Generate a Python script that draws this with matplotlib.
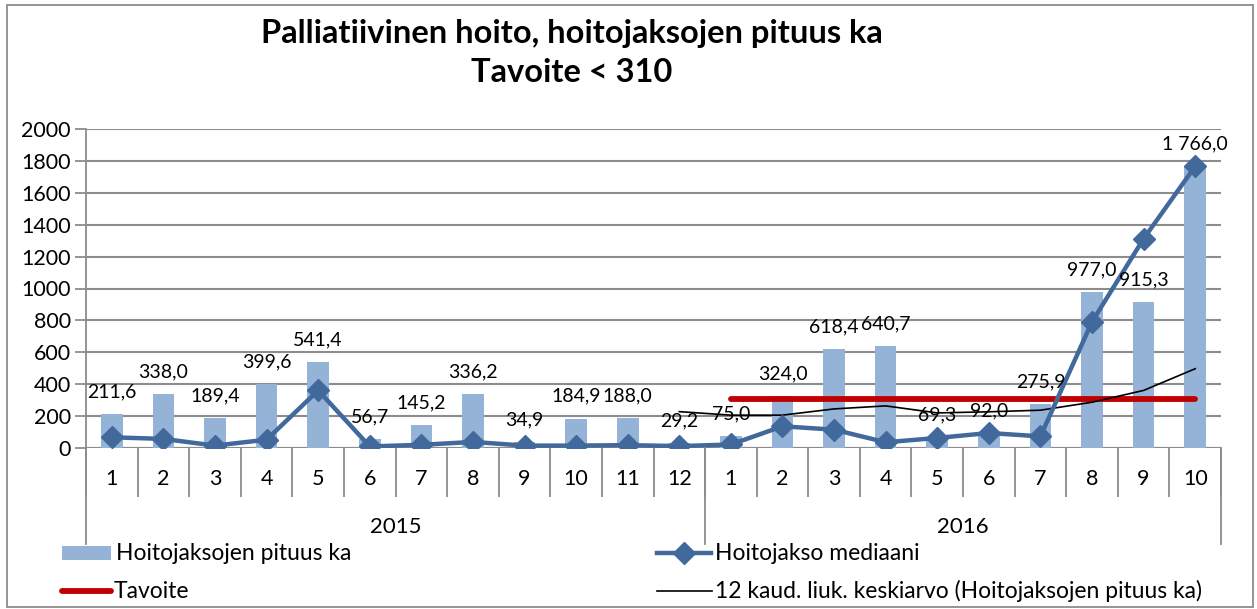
import matplotlib
matplotlib.use("Agg")
import matplotlib.pyplot as plt
from matplotlib.lines import Line2D
from matplotlib.patches import Rectangle
import matplotlib.transforms as mtransforms

# --- data -------------------------------------------------------------
years = ["2015", "2016"]
months_2015 = ["1", "2", "3", "4", "5", "6", "7", "8", "9", "10", "11", "12"]
months_2016 = ["1", "2", "3", "4", "5", "6", "7", "8", "9", "10"]
month_labels = months_2015 + months_2016

pituus_ka = [211.6, 338.0, 189.4, 399.6, 541.4, 56.7, 145.2, 336.2, 34.9, 184.9, 188.0, 29.2,
             75.0, 324.0, 618.4, 640.7, 69.3, 92.0, 275.9, 977.0, 915.3, 1766.0]
mediaani = [67, 57, 15, 52, 361, 10, 20, 38, 15, 15, 18, 12,
            22, 136, 115, 36, 63, 94, 73, 791, 1312, 1766]
liuk_keskiarvo = [None] * 11 + [228, 206, 206, 245, 264, 220, 227, 237, 287, 361, 497]
tavoite = [None] * 12 + [310] * 10

title_lines = ["Palliatiivinen hoito, hoitojaksojen pituus ka", "Tavoite < 310"]
legend_labels = ["Hoitojaksojen pituus ka", "Hoitojakso mediaani", "Tavoite",
                 "12 kaud. liuk. keskiarvo (Hoitojaksojen pituus ka)"]

# --- styling ----------------------------------------------------------
W, H = 1257, 609
DPI = 100
FONT = "Lato"
BAR_C = "#95B3D7"
MED_C = "#41699C"
RED_C = "#C00000"
GRID_C = "#8C8C8C"

plt.rcParams["font.family"] = [FONT, "DejaVu Sans"]

fig = plt.figure(figsize=(W / DPI, H / DPI), dpi=DPI)


def fx(px):
    return px / W


def fy(py):
    return 1 - py / H


# outer chart border
fig.add_artist(Rectangle((fx(7), fy(607)), fx(1253) - fx(7), fy(5) - fy(607),
                         transform=fig.transFigure, fill=False, ec="#8C8C8C", lw=1.3))

left, right, top, bottom = 86, 1221, 129, 448
ax = fig.add_axes([fx(left), fy(bottom), fx(right) - fx(left), fy(top) - fy(bottom)])

n = len(month_labels)
x = list(range(n))

ax.set_xlim(-0.5, n - 0.5)
ax.set_ylim(0, 2000)
ax.set_yticks(range(0, 2001, 200))
ax.tick_params(axis="y", labelsize=15.5, length=8, color=GRID_C, width=1.3, pad=3)
ax.yaxis.grid(True, color=GRID_C, lw=1.5)
ax.set_axisbelow(True)
for s in ["top", "right", "bottom"]:
    ax.spines[s].set_visible(False)
ax.spines["left"].set_color(GRID_C)
ax.spines["left"].set_linewidth(1.3)

# category axis: boundary ticks below the baseline
ax.set_xticks([i - 0.5 for i in range(n + 1)])
ax.set_xticklabels([])
ax.tick_params(axis="x", length=35, color=GRID_C, width=1.3, direction="out")
ax.axhline(0, color=GRID_C, lw=1.5, zorder=1)

# bars
ax.bar(x, pituus_ka, width=0.42, color=BAR_C, zorder=2)

# target line
ax.plot(x, tavoite, color=RED_C, lw=4.2, solid_capstyle="round", zorder=3)

# 12-month moving average
ax.plot(x, liuk_keskiarvo, color="black", lw=1.2, zorder=4)

# median line
ax.plot(x, mediaani, color=MED_C, lw=3.2, marker="D", ms=11, zorder=5)

# bar value labels
for xi, v in zip(x, pituus_ka):
    txt = f"{v:,.1f}".replace(",", " ").replace(".", ",")
    ax.annotate(txt, (xi, v), xytext=(0, 16), textcoords="offset points",
                ha="center", va="center", fontsize=14, zorder=6)

# month labels and year groups
trans = mtransforms.blended_transform_factory(ax.transData, fig.transFigure)
for xi, lab in zip(x, month_labels):
    fig.text(xi, fy(479), lab, transform=trans, ha="center", va="center", fontsize=15.5)

seps = [-0.5, len(months_2015) - 0.5, n - 0.5]
for sx in seps:
    fig.add_artist(Line2D([sx, sx], [fy(448), fy(544)], transform=trans,
                          color=GRID_C, lw=1.3))

centers = [(len(months_2015) - 1) / 2, len(months_2015) + (len(months_2016) - 1) / 2]
for cx, yr in zip(centers, years):
    fig.text(cx, fy(527), yr, transform=trans, ha="center", va="center", fontsize=16)

# title
fig.text(fx(572), fy(33), title_lines[0], ha="center", va="center",
         fontsize=23.5, fontweight="bold")
fig.text(fx(572), fy(72), title_lines[1], ha="center", va="center",
         fontsize=23.5, fontweight="bold")

# legend (two rows, two columns)
row1, row2 = 553, 591
fig.add_artist(Rectangle((fx(62), fy(row1 + 7)), fx(111) - fx(62), fy(row1 - 7) - fy(row1 + 7),
                         transform=fig.transFigure, color=BAR_C, lw=0))
fig.text(fx(116), fy(row1), legend_labels[0], ha="left", va="center", fontsize=16.5)

fig.add_artist(Line2D([fx(657), fx(711)], [fy(row1), fy(row1)], transform=fig.transFigure,
                      color=MED_C, lw=3.2))
fig.add_artist(Line2D([fx(684)], [fy(row1)], transform=fig.transFigure,
                      color=MED_C, marker="D", ms=11, lw=0))
fig.text(fx(715), fy(row1), legend_labels[1], ha="left", va="center", fontsize=16.5)

fig.add_artist(Line2D([fx(62), fx(111)], [fy(row2), fy(row2)], transform=fig.transFigure,
                      color=RED_C, lw=4.2, solid_capstyle="round"))
fig.text(fx(114), fy(row2), legend_labels[2], ha="left", va="center", fontsize=16.5)

fig.add_artist(Line2D([fx(657), fx(712)], [fy(row2), fy(row2)], transform=fig.transFigure,
                      color="black", lw=1.2))
fig.text(fx(715), fy(row2), legend_labels[3], ha="left", va="center", fontsize=16.5)

fig.savefig("out.png", dpi=DPI)
